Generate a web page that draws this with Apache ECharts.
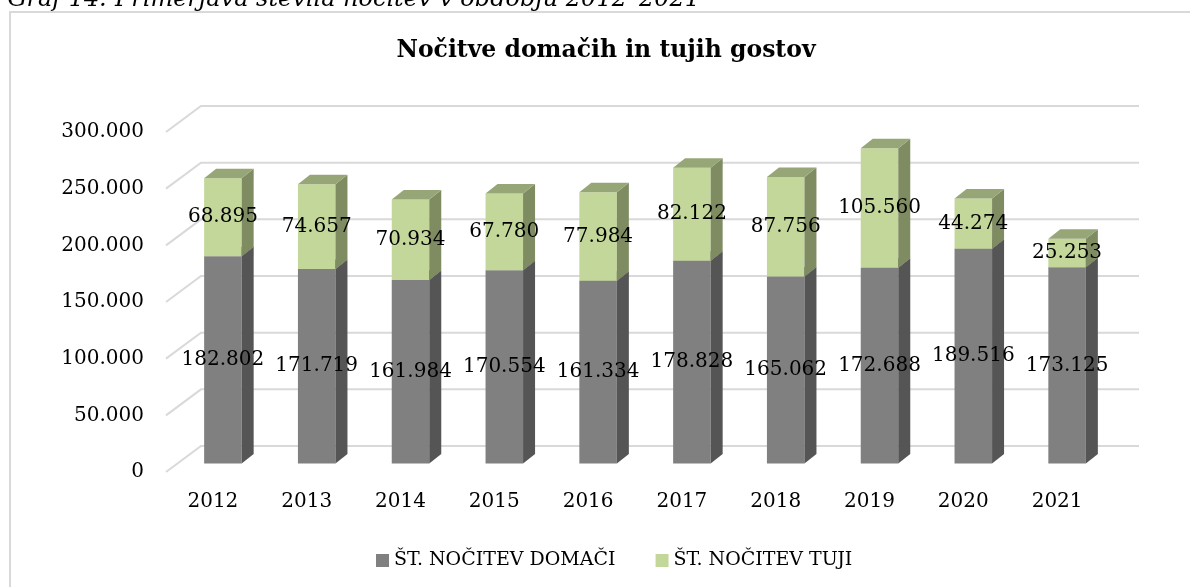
<!DOCTYPE html>
<html><head><meta charset="utf-8">
<script src="https://cdn.jsdelivr.net/npm/echarts@6/dist/echarts.min.js"></script>
<style>html,body{margin:0;padding:0;background:#fff}#c{width:1190px;height:587px}</style>
</head><body><div id="c"></div>
<script>
const years = ['2012','2013','2014','2015','2016','2017','2018','2019','2020','2021'];
const domaci = [182802,171719,161984,170554,161334,178828,165062,172688,189516,173125];
const tuji = [68895,74657,70934,67780,77984,82122,87756,105560,44274,25253];
const yTicks = [0,50000,100000,150000,200000,250000,300000];
const seriesNames = ['ŠT. NOČITEV DOMAČI','ŠT. NOČITEV TUJI'];
const titleText = 'Nočitve domačih in tujih gostov';
const captionText = 'Graf 14: Primerjava števila nočitev v obdobju 2012–2021';

const FONT = 'DejaVu Serif';
const WALL_DX = 35, WALL_DY = -26;
const BAR_DX = 10, BAR_DY = -8.5;
const SIDE_DX = 12, SIDE_DY = -9.5;
const fmt = v => String(Math.round(v)).replace(/\B(?=(\d{3})+(?!\d))/g, '.');

function barItem(api, lo, hi, label, cFront, cSide, cTop) {
  const i = api.value(0);
  const b = api.coord([i, lo]);
  const t = api.coord([i, hi]);
  const bw = api.size([1, 0])[0] * 0.4;
  const x0 = b[0] + BAR_DX - bw / 2;
  const yb = b[1] + BAR_DY, yt = t[1] + BAR_DY;
  const x1 = x0 + bw;
  return {
    type: 'group',
    children: [
      {type: 'rect', shape: {x: x0, y: yt, width: bw, height: yb - yt}, style: {fill: cFront}},
      {type: 'polygon', shape: {points: [[x1, yb], [x1 + SIDE_DX, yb + SIDE_DY], [x1 + SIDE_DX, yt + SIDE_DY], [x1, yt]]}, style: {fill: cSide}},
      {type: 'polygon', shape: {points: [[x0, yt], [x0 + SIDE_DX, yt + SIDE_DY], [x1 + SIDE_DX, yt + SIDE_DY], [x1, yt]]}, style: {fill: cTop}},
      {type: 'text', z2: 100, style: {x: x0 + bw / 2, y: (yb + yt) / 2, text: label, align: 'center', verticalAlign: 'middle', font: '20px "' + FONT + '"', fill: '#000'}}
    ]
  };
}

const chart = echarts.init(document.getElementById('c'), null, {renderer: 'canvas'});
chart.setOption({
  animation: false,
  backgroundColor: '#fff',
  grid: {left: 166, right: 86, top: 132, bottom: 115},
  xAxis: {
    type: 'category', data: years,
    axisLine: {show: false}, axisTick: {show: false},
    axisLabel: {fontFamily: FONT, fontSize: 20, color: '#000', margin: 20}
  },
  yAxis: {
    type: 'value', min: 0, max: 300000, interval: 50000,
    axisLine: {show: false}, axisTick: {show: false}, splitLine: {show: false},
    axisLabel: {fontFamily: FONT, fontSize: 20, color: '#000', margin: 22, formatter: v => fmt(v)}
  },
  legend: {
    data: seriesNames, left: 371, top: 546, itemWidth: 13, itemHeight: 13, itemGap: 40,
    icon: 'rect',
    textStyle: {fontFamily: FONT, fontSize: 19, color: '#000', padding: [0, 0, 0, 0]}
  },
  graphic: [
    {type: 'rect', shape: {x: 10, y: 12, width: 1300, height: 700}, style: {fill: 'none', stroke: '#d9d9d9', lineWidth: 2}, z: -10},
    {type: 'text', x: 700, y: 12, style: {text: captionText, align: 'right', verticalAlign: 'bottom', font: 'italic 24px "' + FONT + '"', fill: '#000'}},
    {type: 'text', x: 606, y: 51, style: {text: titleText, align: 'center', verticalAlign: 'middle', font: 'bold 23.5px "' + FONT + '"', fill: '#000'}}
  ],
  series: [
    {
      type: 'custom', name: 'grid', z: 1, silent: true,
      data: yTicks.map(v => [0, v]),
      renderItem: (params, api) => {
        const cs = params.coordSys;
        const y = api.coord([0, api.value(1)])[1];
        return {type: 'polyline', shape: {points: [[cs.x, y], [cs.x + WALL_DX, y + WALL_DY], [cs.x + cs.width + WALL_DX, y + WALL_DY]]}, style: {stroke: '#d9d9d9', lineWidth: 2, fill: 'none'}};
      }
    },
    {
      type: 'custom', name: seriesNames[0], z: 2,
      itemStyle: {color: '#808080'},
      data: years.map((y, i) => [i, domaci[i]]),
      renderItem: (params, api) => barItem(api, 0, api.value(1), fmt(api.value(1)), '#808080', '#555555', '#6b6b6b')
    },
    {
      type: 'custom', name: seriesNames[1], z: 3,
      itemStyle: {color: '#c4d79b'},
      data: years.map((y, i) => [i, tuji[i], domaci[i]]),
      renderItem: (params, api) => barItem(api, api.value(2), api.value(2) + api.value(1), fmt(api.value(1)), '#c4d79b', '#7f8c62', '#97a677')
    }
  ]
});
</script></body></html>
